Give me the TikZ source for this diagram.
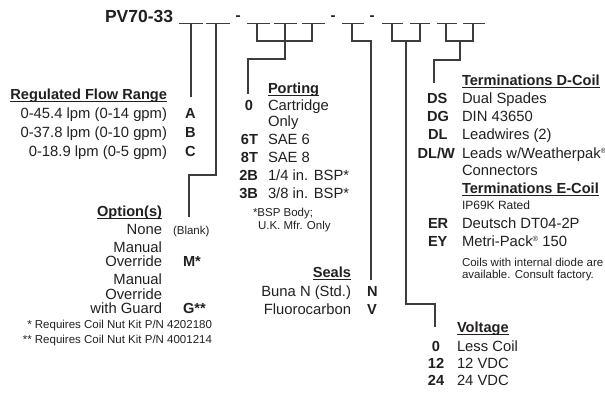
\documentclass[tikz,border=0pt]{standalone}
\usepackage{fontspec}
\setmainfont{Liberation Sans}
\definecolor{ink}{HTML}{231F20}
\definecolor{wirec}{HTML}{3C3C3C}
\newcommand\hdul[1]{\setbox0\hbox{#1}\rlap{\rule[-2.6pt]{\wd0}{1.1pt}}\box0}
\newcommand\regmark{{\fontsize{7.5}{8}\selectfont\raisebox{4.5pt}{®}}}
\begin{document}
\begin{tikzpicture}[x=1pt,y=-1pt,
  every node/.style={inner sep=0pt,outer sep=0pt,text=ink},
  txt/.style={font=\fontsize{14.8}{17}\selectfont},
  bf/.style={font=\fontsize{14.6}{17}\selectfont\bfseries},
  sm/.style={font=\fontsize{11.5}{13}\selectfont},
  wire/.style={draw=wirec,line width=1.1pt},
  blank/.style={draw=wirec,line width=0.9pt}]
\useasboundingbox (0,0) rectangle (605,392);

% title and blanks
\node[font=\fontsize{17.5}{20}\selectfont\bfseries,anchor=base west] (title) at (105,22) {PV70-33};
\foreach \n/\a/\b in {1/179/203,2/206/230,3/247/270,4/274/297,5/302/325,6/342/364,7/382/403,8/410/430,9/437/457,10/463/485}
  {\draw[blank] (\a,23.3) -- (\b,23.3);}
\node[font=\fontsize{15}{17}\selectfont\bfseries,anchor=base] (d1) at (238,20.5) {-};
\node[font=\fontsize{15}{17}\selectfont\bfseries,anchor=base] (d2) at (333,20.5) {-};
\node[font=\fontsize{15}{17}\selectfont\bfseries,anchor=base] (d3) at (372,20.5) {-};

\coordinate (b1) at (191,23.3);
\coordinate (b2) at (216,23.3);
\coordinate (b3) at (257,23.3);
\coordinate (b4) at (285,23.3);
\coordinate (b5) at (312,23.3);
\coordinate (b6) at (352,23.3);
\coordinate (b7) at (392,23.3);
\coordinate (b8) at (420,23.3);
\coordinate (b9) at (446,23.3);
\coordinate (b10) at (473,23.3);

% connector corners / ends
\coordinate (eFlow) at (191,97);
\coordinate (k2) at (189,175);
\coordinate (eOpt) at (189,217);
\coordinate (j345) at (285,41);
\coordinate (k4) at (248,59);
\coordinate (ePort) at (248,94);
\coordinate (k6) at (371,41);
\coordinate (eSeal) at (371,280);
\coordinate (j78) at (406,41);
\coordinate (k78) at (435,304);
\coordinate (eVolt) at (435,327);
\coordinate (j910) at (460,41);
\coordinate (k9) at (434,60);
\coordinate (eTerm) at (434,83);

\draw[wire] (b1) -- (eFlow);
\draw[wire] (b2) |- (k2) -- (eOpt);
\draw[wire] (b3) |- (j345);
\draw[wire] (b5) |- (j345);
\draw[wire] (b4) -- (j345) |- (k4) -- (ePort);
\draw[wire] (b6) |- (k6) -- (eSeal);
\draw[wire] (b7) |- (j78);
\draw[wire] (b8) |- (j78);
\draw[wire] (j78) |- (k78) -- (eVolt);
\draw[wire] (b9) |- (j910);
\draw[wire] (b10) |- (j910);
\draw[wire] (j910) |- (k9) -- (eTerm);

% Regulated flow range
\node[bf,anchor=base east] (hFlow) at (167,99) {\hdul{Regulated Flow Range}};
\node[txt,anchor=base east] (f1) at (167,118) {0-45.4 lpm (0-14 gpm)};
\node[txt,anchor=base east] (f2) at (167,137) {0-37.8 lpm (0-10 gpm)};
\node[txt,anchor=base east] (f3) at (167,156) {0-18.9 lpm (0-5 gpm)};
\node[bf,anchor=base west] (cA) at (185,118) {A};
\node[bf,anchor=base west] (cB) at (185,137) {B};
\node[bf,anchor=base west] (cC) at (185,156) {C};

% Options
\node[bf,anchor=base east] (hOpt) at (162,216) {\hdul{Option(s)}};
\node[txt,anchor=base east] (o1) at (162,234) {None};
\node[sm,anchor=base west] (cBlank) at (173,234) {(Blank)};
\node[txt,anchor=base east] (o2a) at (162,252) {Manual};
\node[txt,anchor=base east] (o2b) at (162,266) {Override};
\node[bf,anchor=base west] (cM) at (183,266) {M*};
\node[txt,anchor=base east] (o3a) at (162,284) {Manual};
\node[txt,anchor=base east] (o3b) at (162,299) {Override};
\node[txt,anchor=base east] (o3c) at (162,313) {with Guard};
\node[bf,anchor=base west] (cG) at (183,313) {G**};
\node[sm,anchor=base east] (fn1) at (212,328) {* Requires Coil Nut Kit P/N 4202180};
\node[sm,anchor=base east] (fn2) at (212,343) {** Requires Coil Nut Kit P/N 4001214};

% Porting
\node[bf,anchor=base west] (hPort) at (268,93) {\hdul{Porting}};
\node[bf,anchor=base] (p0) at (249,110) {0};
\node[txt,anchor=base west] (p0t) at (268,110) {Cartridge};
\node[txt,anchor=base west] (p0u) at (268,126) {Only};
\node[bf,anchor=base east] (p6) at (258,144) {6T};
\node[txt,anchor=base west] (p6t) at (268,144) {SAE 6};
\node[bf,anchor=base east] (p8) at (258,162) {8T};
\node[txt,anchor=base west] (p8t) at (268,162) {SAE 8};
\node[bf,anchor=base east] (p2) at (258,180) {2B};
\node[txt,anchor=base west] (p2t) at (268,180) {1/4 in. BSP*};
\node[bf,anchor=base east] (p3) at (258,198) {3B};
\node[txt,anchor=base west] (p3t) at (268,198) {3/8 in. BSP*};
\node[sm,anchor=base west] (pn1) at (253,216) {*BSP Body;};
\node[sm,anchor=base west] (pn2) at (258,229) {U.K. Mfr. Only};

% Seals
\node[bf,anchor=base east] (hSeal) at (351,277) {\hdul{Seals}};
\node[txt,anchor=base east] (s1) at (351,296) {Buna N (Std.)};
\node[txt,anchor=base east] (s2) at (351,314) {Fluorocarbon};
\node[bf,anchor=base west] (cN) at (367,296) {N};
\node[bf,anchor=base west] (cV) at (367,314) {V};

% Terminations
\node[bf,anchor=base west] (hTD) at (462,85) {\hdul{Terminations D-Coil}};
\node[bf,anchor=base west] (tDS) at (427,103) {DS};
\node[txt,anchor=base west] (tDSt) at (462,103) {Dual Spades};
\node[bf,anchor=base west] (tDG) at (427,121) {DG};
\node[txt,anchor=base west] (tDGt) at (462,121) {DIN 43650};
\node[bf,anchor=base west] (tDL) at (428,139) {DL};
\node[txt,anchor=base west] (tDLt) at (462,139) {Leadwires (2)};
\node[bf,anchor=base east] (tDW) at (455,158) {DL/W};
\node[txt,anchor=base west] (tDWt) at (462,158) {Leads w/Weatherpak\regmark};
\node[txt,anchor=base west] (tDWu) at (462,175) {Connectors};
\node[bf,anchor=base west] (hTE) at (462,193) {\hdul{Terminations E-Coil}};
\node[font=\fontsize{12}{14}\selectfont,anchor=base west] (tIP) at (462,209) {IP69K Rated};
\node[bf,anchor=base west] (tER) at (428,228) {ER};
\node[txt,anchor=base west] (tERt) at (462,228) {Deutsch DT04-2P};
\node[bf,anchor=base west] (tEY) at (428,246) {EY};
\node[txt,anchor=base west] (tEYt) at (462,246) {Metri-Pack\regmark{} 150};
\node[sm,anchor=base west] (tn1) at (462,266) {Coils with internal diode are};
\node[sm,anchor=base west] (tn2) at (462,278) {available. Consult factory.};

% Voltage
\node[bf,anchor=base west] (hV) at (457,332) {\hdul{Voltage}};
\node[bf,anchor=base] (v0) at (436,351) {0};
\node[txt,anchor=base west] (v0t) at (457,351) {Less Coil};
\node[bf,anchor=base] (v12) at (436,368) {12};
\node[txt,anchor=base west] (v12t) at (457,368) {12 VDC};
\node[bf,anchor=base] (v24) at (436,385) {24};
\node[txt,anchor=base west] (v24t) at (457,385) {24 VDC};
\end{tikzpicture}
\end{document}
